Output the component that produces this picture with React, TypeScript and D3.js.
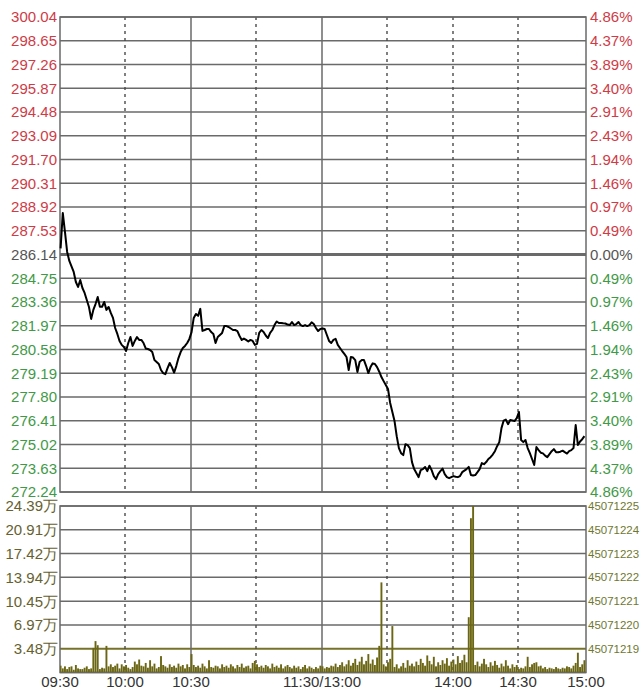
import React from "react";
import * as d3 from "d3";

// ---- data ----
const priceTicks = [300.04, 298.65, 297.26, 295.87, 294.48, 293.09, 291.70, 290.31, 288.92, 287.53, 286.14,
  284.75, 283.36, 281.97, 280.58, 279.19, 277.80, 276.41, 275.02, 273.63, 272.24];
const pctLabels = ["4.86%", "4.37%", "3.89%", "3.40%", "2.91%", "2.43%", "1.94%", "1.46%", "0.97%", "0.49%", "0.00%",
  "0.49%", "0.97%", "1.46%", "1.94%", "2.43%", "2.91%", "3.40%", "3.89%", "4.37%", "4.86%"];
const prevClose = 286.14;

const volTicks = [24.39, 20.91, 17.42, 13.94, 10.45, 6.97, 3.48];
const volRightLabels = ["45071225", "45071224", "45071223", "45071222", "45071221", "45071220", "45071219"];

const timeLabels = ["09:30", "10:00", "10:30", "11:30/13:00", "14:00", "14:30", "15:00"];
const timeLabelMinutes = [0, 30, 60, 120, 180, 210, 240];
const gridMinutes = [30, 60, 90, 120, 150, 180, 210];
const gridDashed = [true, false, true, false, true, true, true];

// price per minute (09:30 .. 11:30, 13:00 .. 15:00)
const prices = [
  286.50, 288.57, 287.46, 286.29, 285.76, 285.44, 285.12, 284.53, 284.24, 284.65,
  284.18, 283.89, 283.48, 283.07, 282.37, 282.90, 283.24, 283.65, 283.08, 283.08,
  283.36, 282.90, 283.07, 282.72, 282.43, 281.84, 281.49, 281.08, 280.85, 280.73,
  280.49, 280.96, 281.31, 280.79, 281.08, 281.31, 281.14, 281.14, 280.96, 280.64,
  280.61, 280.55, 280.43, 279.96, 279.85, 279.73, 279.38, 279.20, 279.14, 279.49,
  279.79, 279.55, 279.23, 279.61, 280.08, 280.43, 280.67, 280.79, 280.96, 281.20,
  281.60, 282.43, 282.66, 282.55, 282.96, 281.67, 281.72, 281.78, 281.78, 281.60,
  281.49, 280.96, 281.31, 281.43, 281.55, 281.95, 281.95, 281.90, 281.81, 281.72,
  281.72, 281.66, 281.37, 281.14, 281.22, 281.14, 281.05, 281.14, 281.08, 280.85,
  280.91, 281.55, 281.72, 281.61, 281.40, 281.25, 281.55, 281.72, 282.01, 282.22,
  282.13, 282.13, 282.11, 282.10, 282.04, 282.01, 282.19, 282.01, 282.07, 282.19,
  282.01, 281.95, 282.01, 281.95, 282.01, 282.17, 282.07, 281.84, 281.66, 281.78,
  281.81, 281.78, 281.43, 281.08, 280.96, 281.14, 281.20, 280.85, 280.67, 280.49,
  280.32, 280.14, 279.38, 280.14, 280.11, 279.96, 279.26, 279.85, 279.96, 279.96,
  279.61, 279.20, 279.55, 279.77, 279.73, 279.55, 279.28, 278.97, 278.73, 278.50,
  278.27, 277.45, 276.92, 276.39, 275.51, 274.81, 274.51, 274.40, 275.04, 274.98,
  274.81, 273.99, 273.58, 273.35, 273.11, 273.52, 273.58, 273.70, 273.46, 273.78,
  273.52, 273.17, 272.99, 273.29, 273.46, 273.61, 273.29, 273.11, 273.05, 273.11,
  273.17, 273.13, 273.11, 273.17, 273.40, 273.49, 273.58, 273.71, 273.23, 273.20,
  273.23, 273.40, 273.58, 273.93, 273.87, 273.99, 274.17, 274.28, 274.43, 274.63,
  274.92, 275.16, 275.98, 276.42, 276.48, 276.21, 276.45, 276.42, 276.39, 276.57,
  276.92, 275.28, 275.16, 275.28, 274.81, 274.51, 274.17, 273.82, 274.87, 274.69,
  274.54, 274.50, 274.37, 274.28, 274.46, 274.63, 274.75, 274.57, 274.57, 274.60,
  274.66, 274.57, 274.49, 274.63, 274.69, 274.81, 276.16, 274.99, 275.20, 275.33,
  275.51,
];

// volume per minute, in 万
const volumes = [
  1.0, 0.6, 0.9, 0.5, 0.8, 0.9, 0.4, 1.1, 0.6, 0.5,
  0.5, 0.7, 0.9, 0.5, 0.6, 3.6, 4.6, 4.0, 0.5, 0.7,
  0.6, 3.9, 0.9, 1.2, 0.8, 1.0, 1.3, 0.6, 1.2, 0.9,
  1.1, 0.7, 0.5, 0.8, 1.6, 1.2, 1.9, 1.0, 0.9, 1.4,
  0.7, 1.8, 0.9, 1.3, 0.6, 0.8, 2.4, 1.1, 0.9, 0.7,
  1.2, 0.8, 1.0, 0.7, 1.3, 0.9, 1.1, 0.6, 1.2, 0.8,
  2.7, 1.1, 0.8, 1.0, 0.7, 1.3, 0.9, 0.6, 1.8, 0.8,
  0.7, 1.0, 0.9, 0.6, 1.2, 0.8, 1.0, 0.7, 1.2, 0.9,
  0.6, 1.1, 0.8, 1.3, 0.7, 0.9, 1.0, 0.6, 1.4, 1.7,
  1.2, 0.8, 1.0, 0.7, 1.1, 0.9, 0.6, 1.3, 0.8, 1.0,
  0.7, 1.2, 0.6, 0.9, 1.1, 0.8, 0.6, 1.0, 0.7, 0.9,
  0.5, 0.8, 1.1, 0.6, 0.9, 0.7, 0.5, 0.8, 0.6, 1.0,
  0.9, 0.6, 0.8, 0.7, 1.0, 0.9, 1.3, 0.8, 1.1, 1.5,
  0.9, 1.2, 1.8, 1.0, 1.4, 2.0, 1.1, 1.6, 2.3, 1.2,
  1.7, 2.7, 1.3, 1.9, 1.1, 2.2, 3.9, 13.2, 1.2, 0.9,
  1.5, 2.0, 6.8, 0.8, 1.2, 0.6, 0.9, 1.4, 0.7, 1.8,
  1.0, 1.3, 0.9, 1.6, 1.1, 2.0, 1.4, 1.0, 2.5, 1.7,
  1.2, 2.3, 0.9, 1.5, 1.1, 1.8, 1.3, 2.1, 1.0, 1.6,
  1.9, 1.2, 2.4, 1.4, 1.8, 2.6, 1.5, 8.1, 22.6, 24.39,
  1.1, 1.6, 0.9, 1.3, 2.0, 1.2, 0.8, 1.5, 1.0, 1.7,
  1.1, 0.7, 1.3, 0.9, 1.8, 1.0, 0.6, 1.2, 0.8, 1.1,
  0.5, 0.7, 0.6, 0.9, 2.3, 0.8, 1.2, 1.4, 1.5, 0.9,
  1.0, 0.6, 0.8, 0.5, 0.7, 0.6, 0.5, 0.8, 0.6, 0.5,
  0.7, 0.6, 0.9, 0.8, 0.6, 1.0, 1.4, 2.9, 0.8, 1.2,
  1.8,
];

// ---- layout ----
const W = 643;
const H = 689;
const L = 60;
const R = 586;
const pTop = 17;
const pBot = 492;
const vTop = 506;
const vBot = 672.5;

const FONT = "'Liberation Sans', Arial, Helvetica, sans-serif";
const RED = "#cf3b46";
const GREEN = "#3f9a47";
const GRAY = "#555555";
const GRID = "#6a6a6a";
const OLIVE = "#6b6614";

export default function App() {
  // 241 one-minute slots spread over the plot width
  const x = d3.scaleLinear().domain([0, 241]).range([L, R]);
  const yP = d3.scaleLinear().domain([priceTicks[priceTicks.length - 1], priceTicks[0]]).range([pBot, pTop]);
  const yV = d3.scaleLinear().domain([0, volTicks[0]]).range([vBot, vTop]);
  const vx = (m: number) => Math.round(x(m));

  const line = d3
    .line<number>()
    .x((_, i) => x(i) + 0.6)
    .y((d) => yP(d));

  const barW = 1.9;
  const labelColor = (p: number) =>
    Math.abs(p - prevClose) < 1e-6 ? GRAY : p > prevClose ? RED : GREEN;

  return (
    <svg
      width={W}
      height={H}
      viewBox={`0 0 ${W} ${H}`}
      style={{ position: "absolute", left: 0, top: 0, background: "#fff" }}
      fontFamily={FONT}
    >
      <defs>
        <clipPath id="volClip">
          <rect x={L} y={vTop - 1} width={R - L} height={vBot - vTop + 1} />
        </clipPath>
      </defs>

      {/* price grid */}
      {priceTicks.map((p, i) => (
        <line
          key={"pg" + i}
          x1={L}
          x2={R}
          y1={yP(p)}
          y2={yP(p)}
          stroke={GRID}
          strokeWidth={Math.abs(p - prevClose) < 1e-6 ? 3 : 1.5}
        />
      ))}
      {/* volume grid */}
      {[0, ...volTicks].map((v, i) => (
        <line
          key={"vg" + i}
          x1={L}
          x2={R}
          y1={yV(v)}
          y2={yV(v)}
          stroke={v === volTicks[volTicks.length - 1] ? "#77722a" : GRID}
          strokeWidth={v === volTicks[volTicks.length - 1] ? 2 : 1.5}
        />
      ))}

      {/* vertical grid lines */}
      {gridMinutes.map((m, i) => (
        <g key={"vl" + i}>
          <line
            x1={vx(m)}
            x2={vx(m)}
            y1={pTop}
            y2={pBot}
            stroke={gridDashed[i] ? "#4a4a4a" : GRID}
            strokeWidth={gridDashed[i] ? 1.4 : 1.5}
            strokeDasharray={gridDashed[i] ? "3,4" : undefined}
          />
          <line
            x1={vx(m)}
            x2={vx(m)}
            y1={vTop}
            y2={vBot}
            stroke={gridDashed[i] ? "#4a4a4a" : GRID}
            strokeWidth={gridDashed[i] ? 1.4 : 1.5}
            strokeDasharray={gridDashed[i] ? "3,4" : undefined}
          />
        </g>
      ))}
      {/* borders */}
      <rect x={L} y={pTop} width={R - L} height={pBot - pTop} fill="none" stroke={GRID} strokeWidth={1.5} />
      <rect x={L} y={vTop} width={R - L} height={vBot - vTop} fill="none" stroke={GRID} strokeWidth={1.5} />

      {/* price line */}
      <path d={line(prices) || ""} fill="none" stroke="#000" strokeWidth={2} strokeLinejoin="round" />

      {/* volume bars */}
      <g clipPath="url(#volClip)">
        {volumes.map((v, i) => (
          <rect
            key={"vb" + i}
            x={x(i) + 0.6 - barW / 2}
            y={yV(v)}
            width={barW}
            height={vBot - yV(v)}
            fill={OLIVE}
          />
        ))}
      </g>

      {/* left price labels */}
      {priceTicks.map((p, i) => (
        <text
          key={"pl" + i}
          x={57}
          y={yP(p)}
          dy="0.36em"
          textAnchor="end"
          fontSize={15}
          fill={labelColor(p)}
        >
          {p.toFixed(2)}
        </text>
      ))}
      {/* right pct labels */}
      {priceTicks.map((p, i) => (
        <text
          key={"pr" + i}
          x={590}
          y={yP(p)}
          dy="0.36em"
          textAnchor="start"
          fontSize={15}
          fill={labelColor(p)}
        >
          {pctLabels[i]}
        </text>
      ))}

      {/* volume labels */}
      {volTicks.map((v, i) => (
        <text
          key={"vl" + i}
          x={58}
          y={yV(v)}
          dy="0.36em"
          textAnchor="end"
          fontSize={15}
          fill="#66612f"
        >
          {v.toFixed(2) + "万"}
        </text>
      ))}
      {volTicks.map((v, i) => (
        <text
          key={"vr" + i}
          x={588}
          y={yV(v)}
          dy="0.36em"
          textAnchor="start"
          fontSize={11.5}
          fill="#6f782f"
        >
          {volRightLabels[i]}
        </text>
      ))}

      {/* time labels */}
      {timeLabels.map((t, i) => (
        <text
          key={"tl" + i}
          x={i === timeLabels.length - 1 ? R : vx(timeLabelMinutes[i])}
          y={687}
          textAnchor="middle"
          fontSize={15}
          fill="#333"
        >
          {t}
        </text>
      ))}
    </svg>
  );
}
